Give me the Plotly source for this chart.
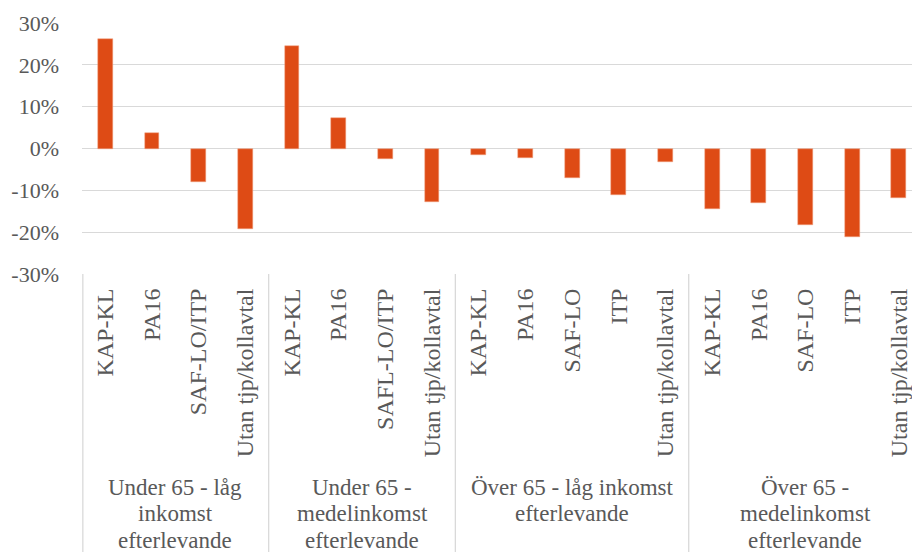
import plotly.graph_objects as go

# Pension scheme categories within each survivor group
categories = [
    "KAP-KL", "PA16", "SAF-LO/ITP", "Utan tjp/kollavtal",
    "KAP-KL", "PA16", "SAFL-LO/ITP", "Utan tjp/kollavtal",
    "KAP-KL", "PA16", "SAF-LO", "ITP", "Utan tjp/kollavtal",
    "KAP-KL", "PA16", "SAF-LO", "ITP", "Utan tjp/kollavtal",
]
# Change in percent
values = [
    26.1, 3.7, -8.1, -19.2,
    24.4, 7.3, -2.6, -12.7,
    -1.5, -2.2, -7.0, -11.0, -3.2,
    -14.5, -13.0, -18.3, -21.1, -11.8,
]
# Survivor groups, one entry per wrapped line
groups = [
    ["Under 65 - låg", "inkomst", "efterlevande"],
    ["Under 65 -", "medelinkomst", "efterlevande"],
    ["Över 65 - låg inkomst", "efterlevande"],
    ["Över 65 -", "medelinkomst", "efterlevande"],
]
group_sizes = [4, 4, 5, 5]
y_ticks = [-30, -20, -10, 0, 10, 20, 30]
y_tick_labels = ["-30%", "-20%", "-10%", "0%", "10%", "20%", "30%"]

W, H = 912, 552
ML, MT, MB = 82, 23, 278
plot_h = H - MT - MB
plot_bottom = MT + plot_h
slot_px = 46.67
plot_w = W - ML
n = len(categories)

FONT = "Liberation Serif, Times New Roman, serif"
GREY = "#595959"
GRID = "#D9D9D9"


def paper_y(px):
    """Convert a pixel row to paper coordinates of the plot area."""
    return (plot_bottom - px) / plot_h


xs = list(range(n))
fig = go.Figure(go.Bar(
    x=xs, y=values, width=0.32,
    marker=dict(color="#DE4B15", line=dict(color="#F0A080", width=0.5)),
    hoverinfo="skip",
))

# group separators and labels below the axis
shapes = []
annotations = []
start = 0
line_centers = [487, 513.7, 540.4]
for g, size in zip(groups, group_sizes):
    end = start + size
    shapes.append(dict(type="line", xref="x", yref="paper",
                       x0=start - 0.5, x1=start - 0.5, y0=0, y1=paper_y(H),
                       line=dict(color=GRID, width=1.3), layer="below"))
    for line, cy in zip(g, line_centers):
        annotations.append(dict(
            text=line, xref="x", yref="paper", x=(start + end - 1) / 2,
            y=paper_y(cy), xanchor="center", yanchor="middle",
            showarrow=False, align="center",
            font=dict(family=FONT, size=23, color=GREY),
        ))
    start = end
shapes[0]["xref"] = "paper"
shapes[0]["x0"] = shapes[0]["x1"] = 0.001

fig.update_layout(
    width=W, height=H,
    margin=dict(l=ML, r=0, t=MT, b=MB, pad=0),
    paper_bgcolor="white", plot_bgcolor="white",
    showlegend=False,
    bargap=0,
    shapes=shapes,
    annotations=annotations,
    font=dict(family=FONT, size=22, color=GREY),
)
fig.update_xaxes(
    range=[-0.5, -0.5 + plot_w / slot_px],
    tickvals=xs, ticktext=categories, tickangle=-90,
    showgrid=False, zeroline=False, showline=False,
    ticks="outside", ticklen=4, tickcolor="rgba(0,0,0,0)",
    tickfont=dict(family=FONT, size=24, color=GREY),
)
fig.update_yaxes(
    range=[-30, 30], tickvals=y_ticks, ticktext=y_tick_labels,
    showgrid=True, gridcolor=GRID, gridwidth=1.3,
    zeroline=True, zerolinecolor=GRID, zerolinewidth=1.3,
    showline=False, ticklabelstandoff=22,
    tickfont=dict(family=FONT, size=22, color=GREY),
)

fig.write_html("out.html")
